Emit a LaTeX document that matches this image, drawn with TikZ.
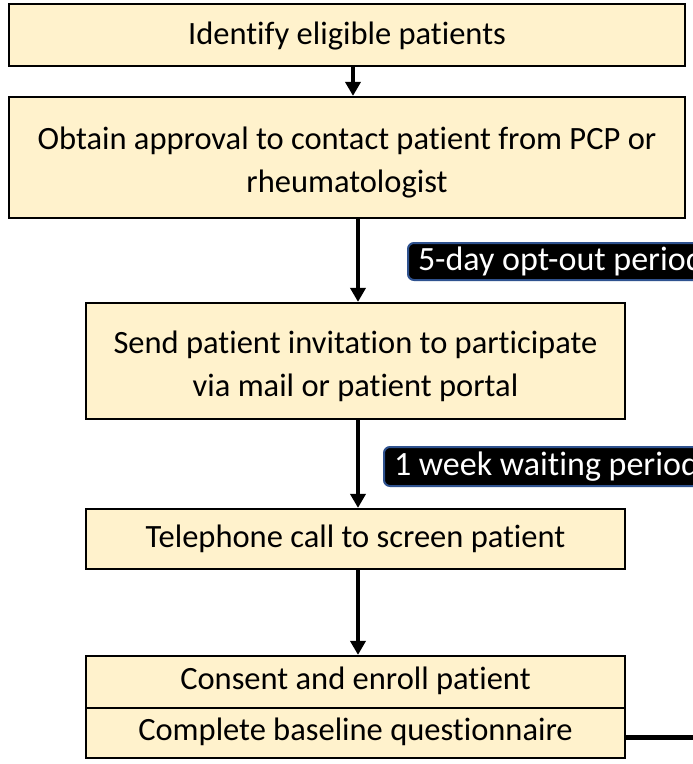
\documentclass[tikz,border=0pt]{standalone}
\usepackage{fontspec}
\setmainfont{Carlito}[Ligatures=NoCommon]
\usetikzlibrary{arrows.meta,calc}
\definecolor{stepfill}{HTML}{FFF2CC}
\definecolor{tagedge}{HTML}{2F528F}
\begin{document}
\begin{tikzpicture}[x=1pt,y=-1pt,
  stepbox/.style={draw=black,line width=2.2pt,fill=stepfill,rectangle,
    inner sep=0pt},
  steptext/.style={align=center,inner sep=0pt,
    font=\fontsize{32.5}{43}\selectfont},
  tagbox/.style={draw=tagedge,line width=2pt,fill=black,text=white,
    rounded corners=6pt,inner ysep=0pt,inner xsep=10pt,anchor=west,
    font=\fontsize{34}{38}\selectfont},
  arr/.style={line width=4pt,-{Triangle[length=14pt,width=15pt]}},
  link/.style={line width=5pt}]
\useasboundingbox (0,0) rectangle (693,764);
\clip (0,0) rectangle (693,764);
\fill[white] (0,0) rectangle (693,764);

% main flow boxes
\node[stepbox,minimum width=676pt,minimum height=62pt] (s1) at (347,35) {};
\node[stepbox,minimum width=676pt,minimum height=121pt] (s2) at (347,157.5) {};
\node[stepbox,minimum width=539pt,minimum height=116pt] (s3) at (355.5,361) {};
\node[stepbox,minimum width=539pt,minimum height=60pt] (s4) at (355.5,539) {};
\node[stepbox,minimum width=539pt,minimum height=52pt] (s5) at (355.5,682) {};
\node[stepbox,minimum width=539pt,minimum height=50pt] (s6) at (355.5,733) {};

% box captions
\node[steptext] (s1t) at ($(s1.center)+(0,1)$) {Identify eligible patients};
\node[steptext] (s2t) at ($(s2.center)+(0,5)$)
  {Obtain approval to contact patient from PCP or\\rheumatologist};
\node[steptext] (s3t) at ($(s3.center)+(0,5)$)
  {Send patient invitation to participate\\via mail or patient portal};
\node[steptext] (s4t) at (s4.center) {Telephone call to screen patient};
\node[steptext] (s5t) at ($(s5.center)+(0,-1)$) {Consent and enroll patient};
\node[steptext] (s6t) at ($(s6.center)+(0,-1)$) {Complete baseline questionnaire};

% waiting-period tags running off the right side
\node[tagbox,minimum height=37pt] (t1) at (407,261.5)
  {5-day opt-out period\hspace*{200pt}};
\node[tagbox,minimum height=39pt] (t2) at (383,466.5)
  {1 week waiting period\hspace*{200pt}};

\coordinate (c1) at (353,0);
\coordinate (c2) at (358,0);
\coordinate (edge) at (700,737);

\draw[arr] (s1.south -| c1) -- (s2.north -| c1);
\draw[arr] (s2.south -| c2) -- (s3.north -| c2);
\draw[arr] (s3.south -| c2) -- (s4.north -| c2);
\draw[arr] (s4.south -| c2) -- (s5.north -| c2);
\draw[link] (s6.east |- edge) -- (edge);
\end{tikzpicture}
\end{document}
